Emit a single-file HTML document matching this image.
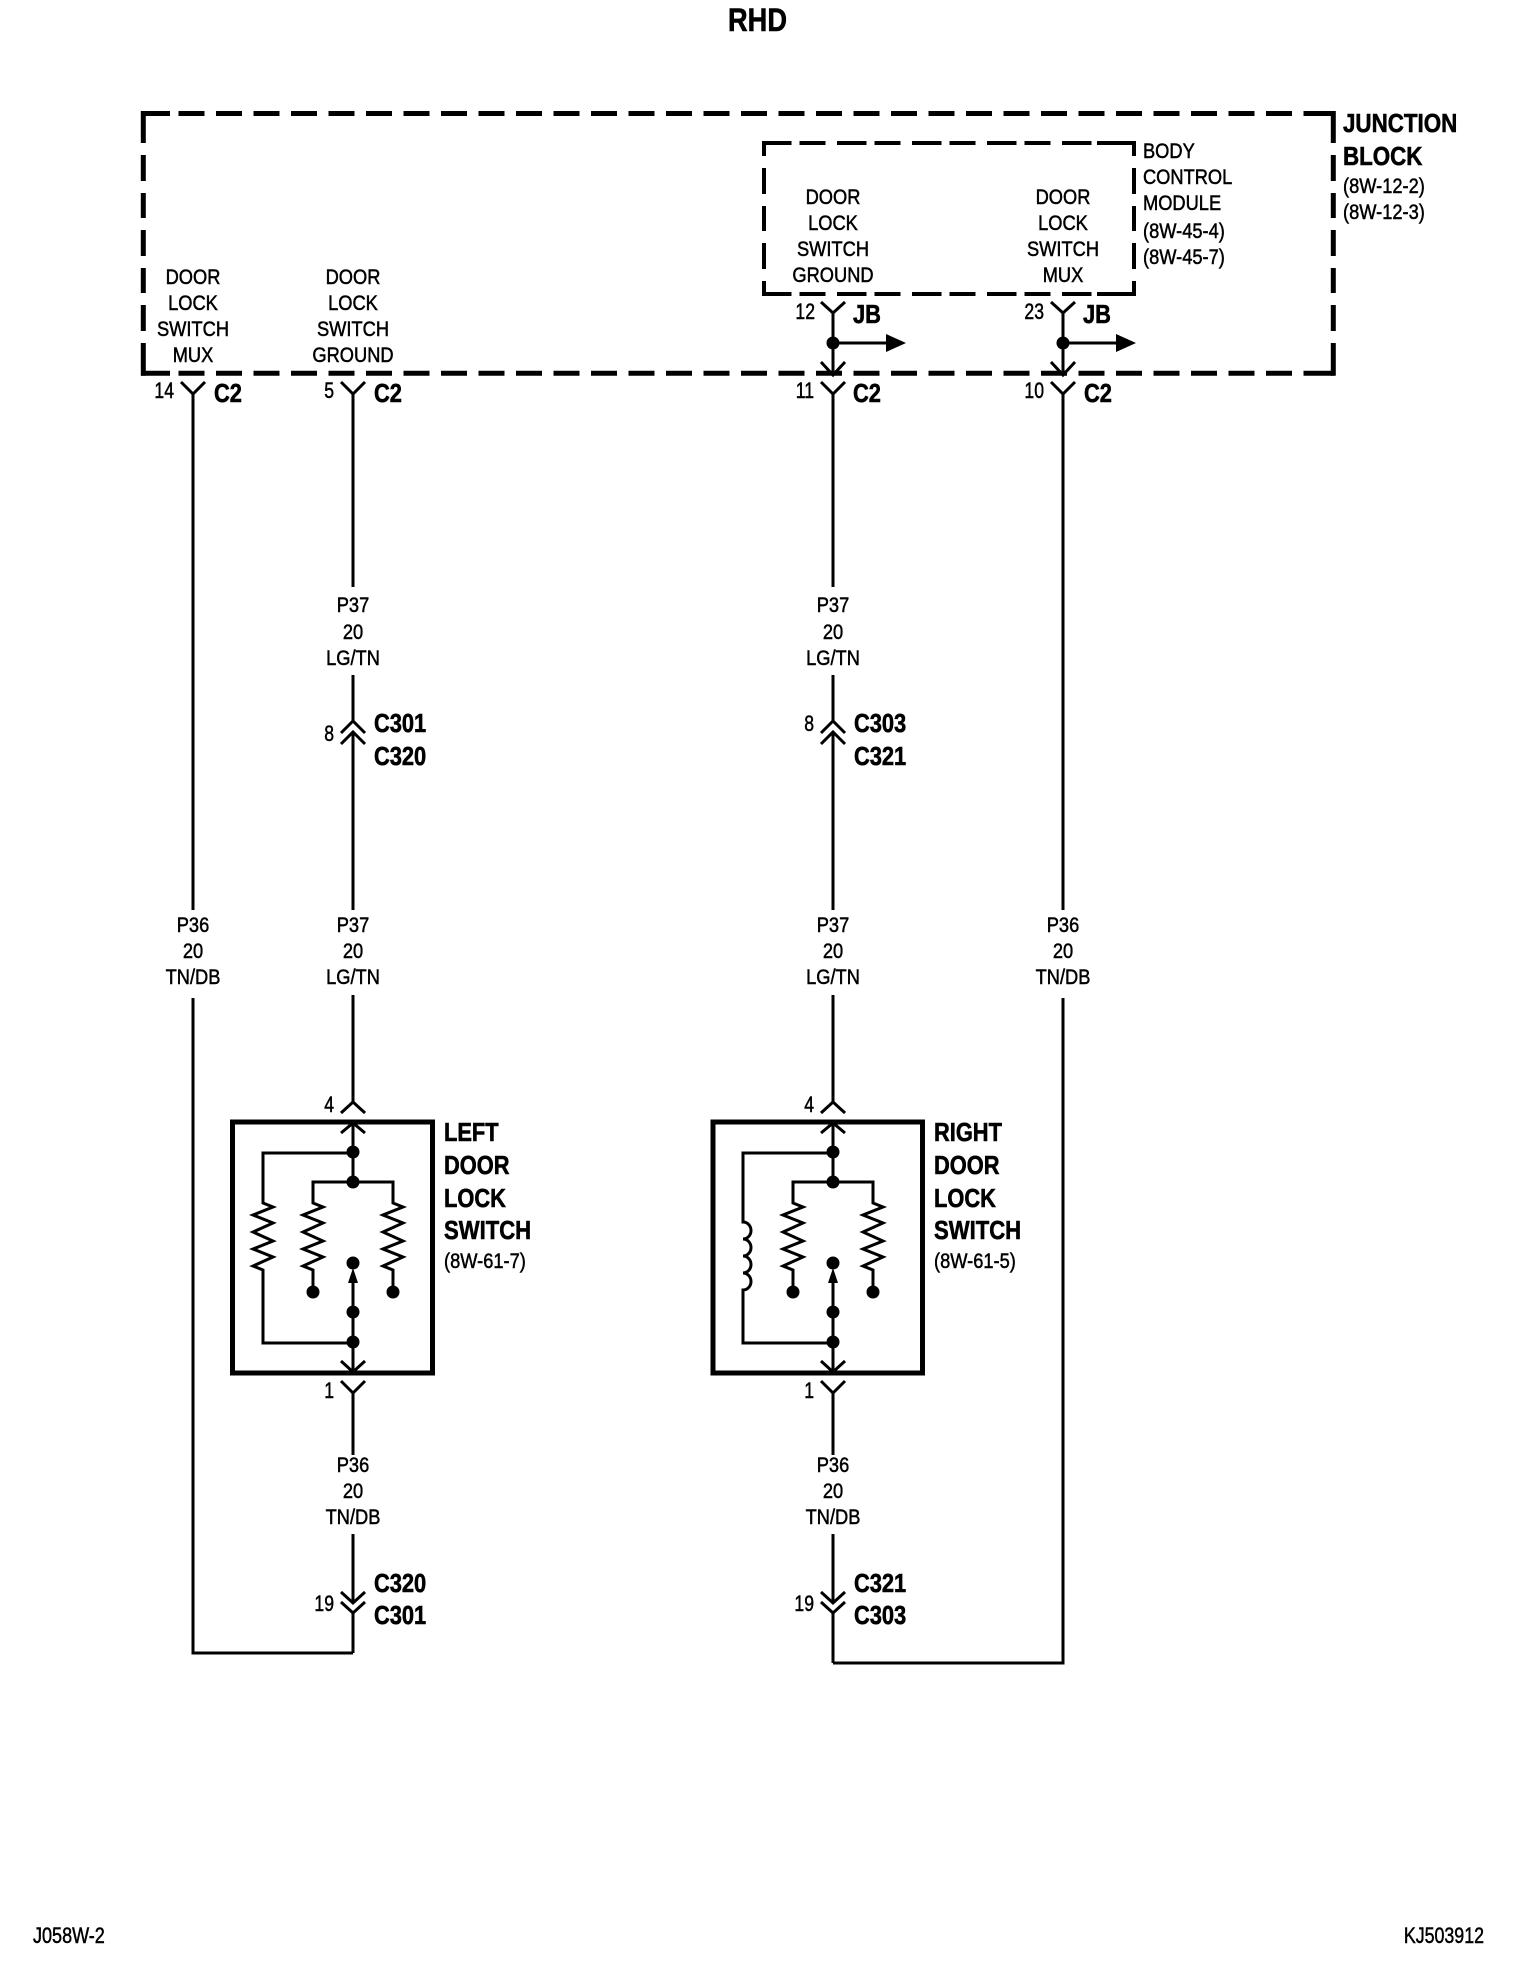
<!DOCTYPE html>
<html><head><meta charset="utf-8"><title>RHD Door Lock Switch</title>
<style>
html,body{margin:0;padding:0;background:#fff;width:1536px;height:1970px;overflow:hidden}
svg{display:block}
text{font-family:"Liberation Sans",Arial,sans-serif;fill:#000}
.r{font-size:21px;stroke:#000;stroke-width:.5px}
.n{font-size:22px}
.b{font-size:26px;font-weight:bold;stroke:#000;stroke-width:.6px}
.w{fill:none;stroke:#000;stroke-width:3}
</style></head><body>
<svg width="1536" height="1970" viewBox="0 0 1536 1970" xmlns="http://www.w3.org/2000/svg">
<text class="b" style="font-size:32px" transform="translate(757.5 31) scale(.85 1)" text-anchor="middle">RHD</text>

<!-- Junction block -->
<g fill="none" stroke="#000" stroke-width="5">
<path d="M141 113.5H1335.5M141 373.3H1335.5" stroke-dasharray="29 8.5 26 11.5 26 11.5 26 11.5 26 11.5 26 11.5 26 11.5 26 11.5 26 11.5 26 11.5 26 11.5 26 11.5 26 11.5 26 11.5 26 11.5 26 11.5 26 11.5 26 11.5 26 11.5 26 11.5 26 11.5 26 11.5 26 11.5 26 11.5 26 11.5 26 11.5 26 11.5 26 11.5 26 11.5 26 11.5 26 11.5 30 11.5"/>
<path d="M143.3 111V143M143.3 155V181M143.3 193V218M143.3 230V256M143.3 268V293M143.3 305V331M143.3 343V375.8"/>
<path d="M1333.3 111V143M1333.3 155V181M1333.3 193V218M1333.3 230V256M1333.3 268V293M1333.3 305V331M1333.3 343V375.8"/>
</g>
<g fill="none" stroke="#000" stroke-width="4">
<path d="M762 143H1096M762 294H1096" stroke-dasharray="29.5 8 26 11.5"/>
<path d="M1097 143H1136M1097 294H1136"/>
<path d="M764 141V156M764 168V194M764 206V231M764 243V269M764 281V296"/>
<path d="M1134 141V156M1134 168V194M1134 206V231M1134 243V269M1134 281V296"/>
</g>

<g class="r">
<text transform="translate(193 284) scale(.87 1)" text-anchor="middle">DOOR</text>
<text transform="translate(193 310) scale(.87 1)" text-anchor="middle">LOCK</text>
<text transform="translate(193 336) scale(.87 1)" text-anchor="middle">SWITCH</text>
<text transform="translate(193 362) scale(.87 1)" text-anchor="middle">MUX</text>
<text transform="translate(353 284) scale(.87 1)" text-anchor="middle">DOOR</text>
<text transform="translate(353 310) scale(.87 1)" text-anchor="middle">LOCK</text>
<text transform="translate(353 336) scale(.87 1)" text-anchor="middle">SWITCH</text>
<text transform="translate(353 362) scale(.87 1)" text-anchor="middle">GROUND</text>
<text transform="translate(833 204) scale(.87 1)" text-anchor="middle">DOOR</text>
<text transform="translate(833 230) scale(.87 1)" text-anchor="middle">LOCK</text>
<text transform="translate(833 256) scale(.87 1)" text-anchor="middle">SWITCH</text>
<text transform="translate(833 282) scale(.87 1)" text-anchor="middle">GROUND</text>
<text transform="translate(1063 204) scale(.87 1)" text-anchor="middle">DOOR</text>
<text transform="translate(1063 230) scale(.87 1)" text-anchor="middle">LOCK</text>
<text transform="translate(1063 256) scale(.87 1)" text-anchor="middle">SWITCH</text>
<text transform="translate(1063 282) scale(.87 1)" text-anchor="middle">MUX</text>
<text transform="translate(1143 158) scale(.87 1)">BODY</text>
<text transform="translate(1143 184) scale(.87 1)">CONTROL</text>
<text transform="translate(1143 210) scale(.87 1)">MODULE</text>
<text transform="translate(1143 238) scale(.87 1)">(8W-45-4)</text>
<text transform="translate(1143 264) scale(.87 1)">(8W-45-7)</text>
<text transform="translate(1343 193) scale(.87 1)">(8W-12-2)</text>
<text transform="translate(1343 219) scale(.87 1)">(8W-12-3)</text>

<!-- pin numbers -->
<g class="n">
<text transform="translate(174 398) scale(.8 1)" text-anchor="end">14</text>
<text transform="translate(334 398) scale(.8 1)" text-anchor="end">5</text>
<text transform="translate(814 398) scale(.8 1)" text-anchor="end">11</text>
<text transform="translate(1044 398) scale(.8 1)" text-anchor="end">10</text>
<text transform="translate(815 319) scale(.8 1)" text-anchor="end">12</text>
<text transform="translate(1044 319) scale(.8 1)" text-anchor="end">23</text>
<text transform="translate(334 741) scale(.8 1)" text-anchor="end">8</text>
<text transform="translate(814 731) scale(.8 1)" text-anchor="end">8</text>
<text transform="translate(334 1112) scale(.8 1)" text-anchor="end">4</text>
<text transform="translate(814 1112) scale(.8 1)" text-anchor="end">4</text>
<text transform="translate(334 1398) scale(.8 1)" text-anchor="end">1</text>
<text transform="translate(814 1398) scale(.8 1)" text-anchor="end">1</text>
<text transform="translate(334 1611) scale(.8 1)" text-anchor="end">19</text>
<text transform="translate(814 1611) scale(.8 1)" text-anchor="end">19</text>
</g>

<!-- wire labels -->
<text transform="translate(353 612) scale(.87 1)" text-anchor="middle">P37</text>
<text transform="translate(353 639) scale(.87 1)" text-anchor="middle">20</text>
<text transform="translate(353 665) scale(.87 1)" text-anchor="middle">LG/TN</text>
<text transform="translate(833 612) scale(.87 1)" text-anchor="middle">P37</text>
<text transform="translate(833 639) scale(.87 1)" text-anchor="middle">20</text>
<text transform="translate(833 665) scale(.87 1)" text-anchor="middle">LG/TN</text>
<text transform="translate(193 932) scale(.87 1)" text-anchor="middle">P36</text>
<text transform="translate(193 958) scale(.87 1)" text-anchor="middle">20</text>
<text transform="translate(193 984) scale(.87 1)" text-anchor="middle">TN/DB</text>
<text transform="translate(353 932) scale(.87 1)" text-anchor="middle">P37</text>
<text transform="translate(353 958) scale(.87 1)" text-anchor="middle">20</text>
<text transform="translate(353 984) scale(.87 1)" text-anchor="middle">LG/TN</text>
<text transform="translate(833 932) scale(.87 1)" text-anchor="middle">P37</text>
<text transform="translate(833 958) scale(.87 1)" text-anchor="middle">20</text>
<text transform="translate(833 984) scale(.87 1)" text-anchor="middle">LG/TN</text>
<text transform="translate(1063 932) scale(.87 1)" text-anchor="middle">P36</text>
<text transform="translate(1063 958) scale(.87 1)" text-anchor="middle">20</text>
<text transform="translate(1063 984) scale(.87 1)" text-anchor="middle">TN/DB</text>
<text transform="translate(353 1472) scale(.87 1)" text-anchor="middle">P36</text>
<text transform="translate(353 1498) scale(.87 1)" text-anchor="middle">20</text>
<text transform="translate(353 1524) scale(.87 1)" text-anchor="middle">TN/DB</text>
<text transform="translate(833 1472) scale(.87 1)" text-anchor="middle">P36</text>
<text transform="translate(833 1498) scale(.87 1)" text-anchor="middle">20</text>
<text transform="translate(833 1524) scale(.87 1)" text-anchor="middle">TN/DB</text>

<text transform="translate(444 1268) scale(.87 1)">(8W-61-7)</text>
<text transform="translate(934 1268) scale(.87 1)">(8W-61-5)</text>

<g style="font-size:22px">
<text transform="translate(33 1943) scale(.82 1)">J058W-2</text>
<text transform="translate(1484 1943) scale(.81 1)" text-anchor="end">KJ503912</text>
</g>
</g>

<g class="b">
<text transform="translate(1343 132) scale(.86 1)">JUNCTION</text>
<text transform="translate(1343 165) scale(.86 1)">BLOCK</text>
<text transform="translate(214 402) scale(.84 1)">C2</text>
<text transform="translate(374 402) scale(.84 1)">C2</text>
<text transform="translate(853 402) scale(.84 1)">C2</text>
<text transform="translate(1084 402) scale(.84 1)">C2</text>
<text transform="translate(853 323) scale(.84 1)">JB</text>
<text transform="translate(1083 323) scale(.84 1)">JB</text>
<text transform="translate(374 732) scale(.84 1)">C301</text>
<text transform="translate(374 765) scale(.84 1)">C320</text>
<text transform="translate(854 732) scale(.84 1)">C303</text>
<text transform="translate(854 765) scale(.84 1)">C321</text>
<text transform="translate(374 1592) scale(.84 1)">C320</text>
<text transform="translate(374 1624) scale(.84 1)">C301</text>
<text transform="translate(854 1592) scale(.84 1)">C321</text>
<text transform="translate(854 1624) scale(.84 1)">C303</text>
<text transform="translate(444 1141) scale(.84 1)">LEFT</text>
<text transform="translate(444 1174) scale(.84 1)">DOOR</text>
<text transform="translate(444 1207) scale(.84 1)">LOCK</text>
<text transform="translate(444 1239) scale(.85 1)">SWITCH</text>
<text transform="translate(934 1141) scale(.84 1)">RIGHT</text>
<text transform="translate(934 1174) scale(.84 1)">DOOR</text>
<text transform="translate(934 1207) scale(.84 1)">LOCK</text>
<text transform="translate(934 1239) scale(.85 1)">SWITCH</text>
</g>

<!-- JB connectors and branches -->
<g class="w">
<path d="M821 302L833 313L845 302M833 313V375M821 362L833 375L845 362"/>
<path d="M1051 302L1063 313L1075 302M1063 313V375M1051 362L1063 375L1075 362"/>
<path d="M833 343H886M1063 343H1116"/>
<!-- C2 connectors -->
<path d="M181 382L193 394L205 382M193 394V910M193 998V1653H353"/>
<path d="M341 382L353 394L365 382M353 394V587M353 675V721M341 733L353 721L365 733M341 744L353 732L365 744M353 732V910M353 995V1102M341 1113L353 1102L365 1113"/>
<path d="M821 382L833 394L845 382M833 394V587M833 675V721M821 733L833 721L845 733M821 744L833 732L845 744M833 732V910M833 995V1102M821 1113L833 1102L845 1113"/>
<path d="M1051 382L1063 394L1075 382M1063 394V910M1063 998V1663H833"/>
<!-- bottom connectors -->
<path d="M341 1381L353 1393L365 1381M353 1393V1455M353 1534V1603M341 1592L353 1603L365 1592M341 1602L353 1613L365 1602M353 1613V1653"/>
<path d="M821 1381L833 1393L845 1381M833 1393V1455M833 1534V1603M821 1592L833 1603L845 1592M821 1602L833 1613L845 1602M833 1613V1663"/>
</g>
<path d="M886 334L906 343L886 352ZM1116 334L1136 343L1116 352Z" fill="#000"/>
<circle cx="833" cy="343" r="6.5"/><circle cx="1063" cy="343" r="6.5"/>

<!-- Left switch -->
<rect x="232.5" y="1122" width="200" height="251" fill="none" stroke="#000" stroke-width="5"/>
<g class="w">
<path d="M341 1133L353 1123L365 1133M353 1123V1182M353 1282V1373M341 1361L353 1372L365 1361"/>
<path d="M353 1153H263V1203L273 1207L253 1215L273 1223L253 1232L273 1241L253 1249L273 1257L253 1266L263 1270V1343H353"/>
<path d="M313 1292V1270L303 1266L323 1257L303 1249L323 1241L303 1232L323 1223L303 1215L323 1207L313 1203V1182H393V1203L403 1207L383 1215L403 1223L383 1232L403 1241L383 1249L403 1257L383 1266L393 1270V1292"/>
</g>
<path d="M353 1268L358 1283H348Z" fill="#000"/>
<g>
<circle cx="353" cy="1152" r="6.5"/><circle cx="353" cy="1182" r="6.5"/><circle cx="353" cy="1263" r="6.5"/><circle cx="353" cy="1312" r="6.5"/><circle cx="353" cy="1342" r="6.5"/><circle cx="313" cy="1292" r="6.5"/><circle cx="393" cy="1292" r="6.5"/>
</g>

<!-- Right switch -->
<rect x="713" y="1122" width="209.5" height="251" fill="none" stroke="#000" stroke-width="5"/>
<g class="w">
<path d="M821 1133L833 1123L845 1133M833 1123V1182M833 1282V1373M821 1361L833 1372L845 1361"/>
<path d="M833 1153H743V1222a8 8.5 0 0 1 0 17a8 8.5 0 0 1 0 17a8 8.5 0 0 1 0 17a8 8.5 0 0 1 0 17V1343H833"/>
<path d="M793 1292V1270L783 1266L803 1257L783 1249L803 1241L783 1232L803 1223L783 1215L803 1207L793 1203V1182H873V1203L883 1207L863 1215L883 1223L863 1232L883 1241L863 1249L883 1257L863 1266L873 1270V1292"/>
</g>
<path d="M833 1268L838 1283H828Z" fill="#000"/>
<g>
<circle cx="833" cy="1152" r="6.5"/><circle cx="833" cy="1182" r="6.5"/><circle cx="833" cy="1263" r="6.5"/><circle cx="833" cy="1312" r="6.5"/><circle cx="833" cy="1342" r="6.5"/><circle cx="793" cy="1292" r="6.5"/><circle cx="873" cy="1292" r="6.5"/>
</g>
</svg>
</body></html>
